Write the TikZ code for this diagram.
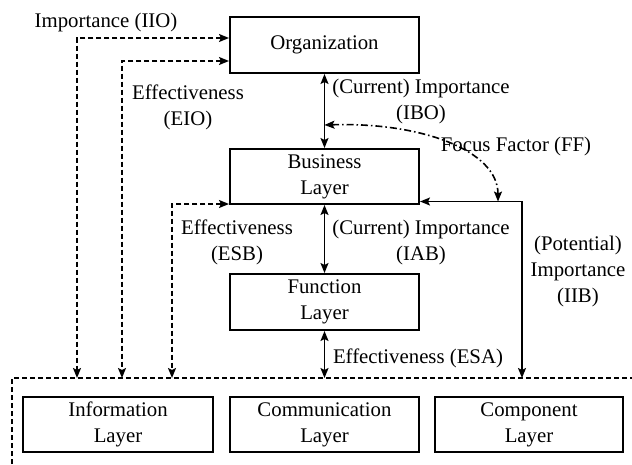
\documentclass[tikz,border=0pt]{standalone}
\usepackage{fontspec}
\setmainfont{Liberation Serif}
\usetikzlibrary{arrows.meta}
\begin{document}
\begin{tikzpicture}[x=1pt,y=-1pt,
  font=\fontsize{20.8}{26}\selectfont,
  box/.style={draw,line width=2pt,align=center,minimum height=55pt,inner sep=0pt},
  conn/.style={line width=1.6pt,{Stealth[length=10pt,width=8pt,inset=2pt]}-{Stealth[length=10pt,width=8pt,inset=2pt]}},
  dasharrow/.style={conn,dash pattern=on 5pt off 3pt},
  ffarrow/.style={conn,dash pattern=on 7pt off 3pt on 1.5pt off 3pt},
  lbl/.style={align=center,inner sep=0pt}]
\useasboundingbox (0,0) rectangle (632,464);
% boxes
\node[box,minimum width=189pt,minimum height=56pt] (org) at (324.5,45) {Organization};
\node[box,minimum width=189pt] (bus) at (324.5,176.5) {Business\\Layer};
\node[box,minimum width=189pt,minimum height=56pt] (fun) at (324.5,302) {Function\\Layer};
\node[box,minimum width=190pt] (info) at (118,424.5) {Information\\Layer};
\node[box,minimum width=189pt] (comm) at (324.5,424.5) {Communication\\Layer};
\node[box,minimum width=188pt] (comp) at (529,424.5) {Component\\Layer};
% dashed frame
\coordinate (fl) at (12,464);
\coordinate (ft) at (12,378);
\coordinate (fr) at (632,378);
\draw[line width=1.6pt,dash pattern=on 5pt off 3pt] (fl) -- (ft) -- (fr);
% endpoints on frame
\coordinate (d1) at (77,378);
\coordinate (d2) at (122,378);
\coordinate (d3) at (172,378);
\coordinate (d4) at (324.5,378);
\coordinate (d5) at (522,378);
\coordinate (ffa) at (324.5,125);
\coordinate (ffb) at (498,201.5);
% connectors
\draw[dasharrow] ([yshift=7pt]org.west) -| (d1);
\draw[dasharrow] ([yshift=-16pt]org.west) -| (d2);
\draw[dasharrow] ([yshift=1pt]bus.south west) -| (d3);
\draw[conn] (org) -- (bus);
\draw[conn] (bus) -- (fun);
\draw[conn] (fun) -- (d4);
\draw[conn] ([yshift=-25pt]bus.east) -| (d5);
\draw[ffarrow] (ffa) .. controls (420,122) and (498,150) .. (ffb);
% labels
\node[lbl] (lIIO) at (106,22) {Importance (IIO)};
\node[lbl] (lEIO) at (188,107) {Effectiveness\\(EIO)};
\node[lbl] (lIBO) at (421,101) {(Current) Importance\\(IBO)};
\node[lbl] (lFF) at (516,146) {Focus Factor (FF)};
\node[lbl] (lESB) at (237,242) {Effectiveness\\(ESB)};
\node[lbl] (lIAB) at (421,242) {(Current) Importance\\(IAB)};
\node[lbl] (lIIB) at (578,271) {(Potential)\\Importance\\(IIB)};
\node[lbl] (lESA) at (418,358) {Effectiveness (ESA)};
\end{tikzpicture}
\end{document}
